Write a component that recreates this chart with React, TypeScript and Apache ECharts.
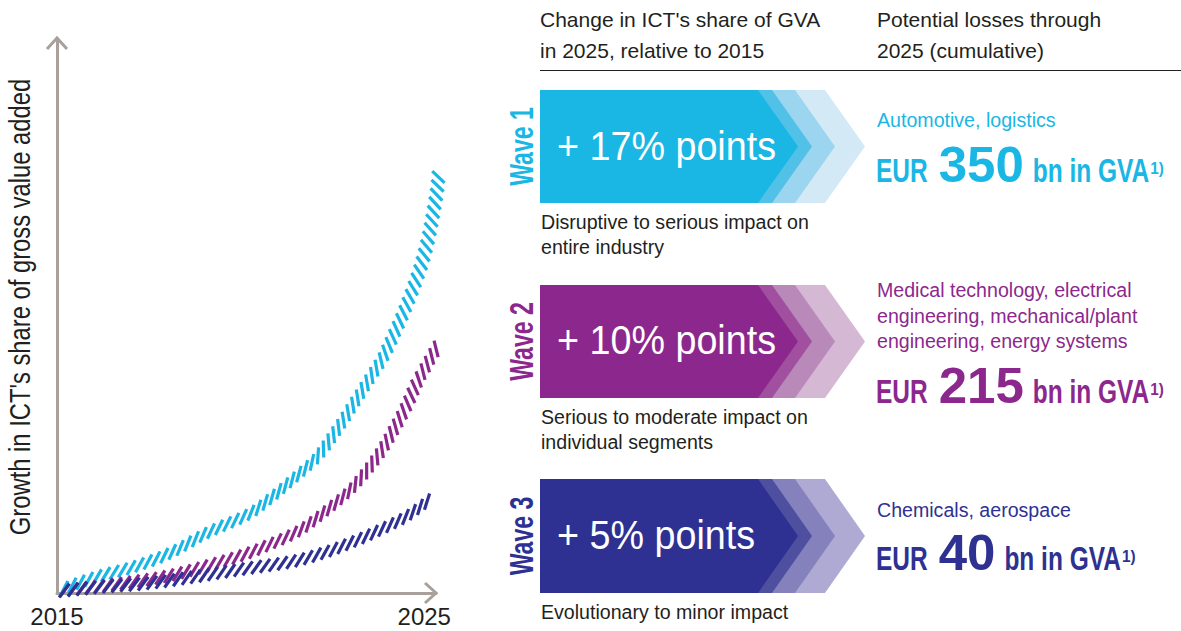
import React, { useEffect, useRef } from "react";
import * as echarts from "echarts";

// ---------- data ----------
const xLabels = [2015, 2025];
const yAxisTitle = "Growth in ICT's share of gross value added";

const wave1Years = [2015.08, 2015.98, 2017.07, 2018.08, 2019.08, 2020.17, 2020.72, 2021.43, 2022.08, 2022.62, 2023.06, 2023.44, 2023.88, 2024.23, 2024.5, 2024.75, 2024.96, 2025.13, 2025.26, 2025.35, 2025.4];
const wave1Values = [0.54, 2.71, 4.7, 7.23, 10.85, 14.1, 16.64, 20.61, 24.59, 29.48, 34.0, 37.97, 42.68, 47.56, 51.72, 56.06, 60.22, 64.74, 69.26, 72.88, 76.31];

const wave2Years = [2015.08, 2015.54, 2016.63, 2017.89, 2018.97, 2020.06, 2020.88, 2021.62, 2022.35, 2023.06, 2023.79, 2024.42, 2024.8, 2025.07, 2025.35];
const wave2Values = [0.36, 0.72, 1.63, 2.89, 4.7, 6.87, 9.04, 11.39, 15.01, 19.17, 25.32, 32.55, 37.97, 41.23, 44.48];

const wave3Years = [2015.08, 2016.17, 2017.53, 2018.7, 2020.06, 2021.34, 2022.16, 2022.98, 2023.79, 2024.53, 2025.1];
const wave3Values = [0.36, 1.08, 1.81, 2.89, 4.34, 5.61, 7.05, 9.04, 11.39, 13.92, 16.64];

const headerLeft = ["Change in ICT's share of GVA", "in 2025, relative to 2015"];
const headerRight = ["Potential losses through", "2025 (cumulative)"];
const waveNames = ["Wave 1", "Wave 2", "Wave 3"];
const waveChanges = ["+ 17% points", "+ 10% points", "+ 5% points"];
const waveImpacts = [
  ["Disruptive to serious impact on", "entire industry"],
  ["Serious to moderate impact on", "individual segments"],
  ["Evolutionary to minor impact"],
];
const waveSectors = [
  ["Automotive, logistics"],
  ["Medical technology, electrical", "engineering, mechanical/plant", "engineering, energy systems"],
  ["Chemicals, aerospace"],
];
const waveLosses = ["350", "215", "40"];
const lossPrefix = "EUR";
const lossSuffix = "bn in GVA";
const lossNote = "1)";

// ---------- styles ----------
const FONT = "'Liberation Sans', Arial, sans-serif";
const TEXT = "#231f20";
const AXIS = "#a9a09c";
const waveColors = ["#1ab6e4", "#8c288d", "#2e3192"];
const layerColors = [
  ["#d3eaf6", "#9bd5ef", "#52c1e7"],
  ["#d4b8d4", "#b98ab9", "#a0509f"],
  ["#aeaad3", "#8581bd", "#4f4f9f"],
];

function hatchAngle(a: number): number {
  const xs = [-10, 0, 20, 44, 58, 73, 90];
  const ys = [47, 50, 62, 77, 100, 128, 140];
  if (a <= xs[0]) return ys[0];
  for (let i = 0; i < xs.length - 1; i++) {
    if (a <= xs[i + 1]) {
      const t = (a - xs[i]) / (xs[i + 1] - xs[i]);
      return ys[i] + t * (ys[i + 1] - ys[i]);
    }
  }
  return ys[ys.length - 1];
}

function makeRender(xs: number[], ys: number[], color: string) {
  const SPACING = 8.8;
  const HALF = 8.5;
  const STEPS = 24;
  return (params: any, api: any) => {
    const idx = params.dataIndex;
    const n = xs.length;
    if (idx >= n - 1) return { type: "group", children: [] };
    const pts = xs.map((x, i) => api.coord([x, ys[i]]));
    const dense: { x: number; y: number; s: number }[] = [];
    const segStart: number[] = [];
    let s = 0;
    let prev: number[] | null = null;
    for (let i = 0; i < n - 1; i++) {
      const p0 = pts[Math.max(0, i - 1)];
      const p1 = pts[i];
      const p2 = pts[i + 1];
      const p3 = pts[Math.min(n - 1, i + 2)];
      for (let k = 0; k < STEPS; k++) {
        const t = k / STEPS;
        const t2 = t * t;
        const t3 = t2 * t;
        const px =
          0.5 * (2 * p1[0] + (-p0[0] + p2[0]) * t + (2 * p0[0] - 5 * p1[0] + 4 * p2[0] - p3[0]) * t2 + (-p0[0] + 3 * p1[0] - 3 * p2[0] + p3[0]) * t3);
        const py =
          0.5 * (2 * p1[1] + (-p0[1] + p2[1]) * t + (2 * p0[1] - 5 * p1[1] + 4 * p2[1] - p3[1]) * t2 + (-p0[1] + 3 * p1[1] - 3 * p2[1] + p3[1]) * t3);
        if (prev) s += Math.hypot(px - prev[0], py - prev[1]);
        if (k === 0) segStart.push(s);
        dense.push({ x: px, y: py, s });
        prev = [px, py];
      }
    }
    const last = pts[n - 1];
    if (prev) s += Math.hypot(last[0] - prev[0], last[1] - prev[1]);
    dense.push({ x: last[0], y: last[1], s });
    segStart.push(s);

    const from = segStart[idx];
    const to = segStart[idx + 1];
    const children: any[] = [];
    let m = Math.ceil((from - SPACING * 0.5) / SPACING);
    let j = 0;
    for (; ; m++) {
      const sh = (m + 0.5) * SPACING;
      if (sh < from) continue;
      if (sh >= to) break;
      while (j < dense.length - 2 && dense[j + 1].s < sh) j++;
      const a = dense[j];
      const b = dense[j + 1];
      const seg = b.s - a.s || 1;
      const t = (sh - a.s) / seg;
      const cx = a.x + (b.x - a.x) * t;
      const cy = a.y + (b.y - a.y) * t;
      const ang = (Math.atan2(-(b.y - a.y), b.x - a.x) * 180) / Math.PI;
      const h = (hatchAngle(ang) * Math.PI) / 180;
      const dx = Math.cos(h) * HALF;
      const dy = -Math.sin(h) * HALF;
      children.push({
        type: "line",
        shape: { x1: cx - dx, y1: cy - dy, x2: cx + dx, y2: cy + dy },
        style: { stroke: color, lineWidth: 3.2, lineCap: "butt" },
      });
    }
    return { type: "group", children };
  };
}

export default function App() {
  const ref = useRef<HTMLDivElement>(null);

  useEffect(() => {
    if (!ref.current) return;
    const chart = echarts.init(ref.current, undefined, { renderer: "svg" });

    const cvs = document.createElement("canvas").getContext("2d")!;
    const measure = (t: string, size: number, weight: string) => {
      cvs.font = `${weight} ${size}px 'Liberation Sans', Arial, sans-serif`;
      return cvs.measureText(t).width;
    };

    const txt = (text: string, x: number, y: number, o: any) => ({
      type: "text",
      x,
      y,
      rotation: o.rotation || 0,
      scaleX: o.scaleX || 1,
      silent: true,
      style: {
        text,
        fill: o.fill || TEXT,
        fontSize: o.fontSize,
        fontFamily: FONT,
        fontWeight: o.fontWeight || "normal",
        align: o.align || "left",
        verticalAlign: "middle",
      },
    });

    const graphic: any[] = [];
    // axis arrowheads
    graphic.push({
      type: "polyline",
      silent: true,
      shape: { points: [[47, 49], [57, 38], [67, 49]] },
      style: { stroke: AXIS, lineWidth: 3, fill: "none" },
    });
    graphic.push({
      type: "polyline",
      silent: true,
      shape: { points: [[425, 583], [436, 593], [425, 603]] },
      style: { stroke: AXIS, lineWidth: 3, fill: "none" },
    });
    // y axis title
    graphic.push(txt(yAxisTitle, 20, 307, { fontSize: 29, scaleX: 0.82, align: "center", rotation: Math.PI / 2 }));

    // headers
    headerLeft.forEach((t, i) => graphic.push(txt(t, 540, 19 + i * 31, { fontSize: 21 })));
    headerRight.forEach((t, i) => graphic.push(txt(t, 877, 19 + i * 31, { fontSize: 21 })));
    graphic.push({
      type: "line",
      silent: true,
      shape: { x1: 540, y1: 70.5, x2: 1181, y2: 70.5 },
      style: { stroke: TEXT, lineWidth: 1.2 },
    });

    const tops = [90, 285, 479];
    const bottoms = [203, 398, 593];
    const tips = [865, 835, 812, 798];
    const changeY = [145, 339, 534];
    const impactY = [222, 417, 612];
    const sectorY = [120, 290, 510];
    const lossBase = [182, 403, 570];

    for (let w = 0; w < 3; w++) {
      const T = tops[w];
      const B = bottoms[w];
      const M = (T + B) / 2;
      const cols = [...layerColors[w], waveColors[w]];
      tips.forEach((tip, li) => {
        graphic.push({
          type: "polygon",
          silent: true,
          shape: { points: [[540, T], [tip - 40, T], [tip, M], [tip - 40, B], [540, B]] },
          style: { fill: cols[li] },
        });
      });
      graphic.push(txt(waveChanges[w], 557, changeY[w], { fontSize: 41, scaleX: 0.92, fill: "#ffffff" }));
      graphic.push(
        txt(waveNames[w], 521, M, { fontSize: 33, fontWeight: "bold", scaleX: 0.7, align: "center", rotation: Math.PI / 2, fill: waveColors[w] })
      );
      waveImpacts[w].forEach((t, i) => graphic.push(txt(t, 541, impactY[w] + i * 25, { fontSize: 19.6 })));
      waveSectors[w].forEach((t, i) => graphic.push(txt(t, 877, sectorY[w] + i * 25.7, { fontSize: 19.6, fill: waveColors[w] })));

      const base = lossBase[w];
      const small = 34;
      const big = 50;
      let x = 876;
      graphic.push(txt(lossPrefix, x, base - 0.35 * small, { fontSize: small, fontWeight: "bold", scaleX: 0.72, fill: waveColors[w] }));
      x += measure(lossPrefix, small, "bold") * 0.72 + 11;
      graphic.push(txt(waveLosses[w], x, base - 0.35 * big, { fontSize: big, fontWeight: "bold", scaleX: 1.02, fill: waveColors[w] }));
      x += measure(waveLosses[w], big, "bold") * 1.02 + 9;
      graphic.push(txt(lossSuffix, x, base - 0.35 * small, { fontSize: small, fontWeight: "bold", scaleX: 0.72, fill: waveColors[w] }));
      x += measure(lossSuffix, small, "bold") * 0.72 + 1;
      graphic.push(txt(lossNote, x, base - 14, { fontSize: 17, fontWeight: "bold", scaleX: 0.9, fill: waveColors[w] }));
    }

    const series = [
      [wave1Years, wave1Values],
      [wave2Years, wave2Values],
      [wave3Years, wave3Values],
    ].map(([xs, ys], i) => ({
      type: "custom",
      silent: true,
      clip: false,
      z: 2 + i,
      encode: { x: 0, y: 1 },
      data: xs.map((x, k) => [x, ys[k]]),
      renderItem: makeRender(xs, ys, waveColors[i]),
    }));

    chart.setOption({
      animation: false,
      grid: { left: 57, right: 745, top: 40, bottom: 38 },
      xAxis: {
        type: "value",
        min: 2015,
        max: 2025.32,
        axisLine: { show: true, onZero: false, lineStyle: { color: AXIS, width: 3 } },
        axisTick: { show: false },
        splitLine: { show: false },
        axisLabel: {
          customValues: xLabels,
          formatter: (v: number) => String(v),
          fontSize: 24,
          color: TEXT,
          fontFamily: FONT,
          margin: 11,
        },
      },
      yAxis: {
        type: "value",
        min: 0,
        max: 100,
        axisLine: { show: true, onZero: false, lineStyle: { color: AXIS, width: 3 } },
        axisTick: { show: false },
        splitLine: { show: false },
        axisLabel: { show: false },
      },
      series,
      graphic,
    });

    return () => chart.dispose();
  }, []);

  return <div ref={ref} style={{ position: "fixed", left: 0, top: 0, width: 1181, height: 631, background: "#fff" }} />;
}
